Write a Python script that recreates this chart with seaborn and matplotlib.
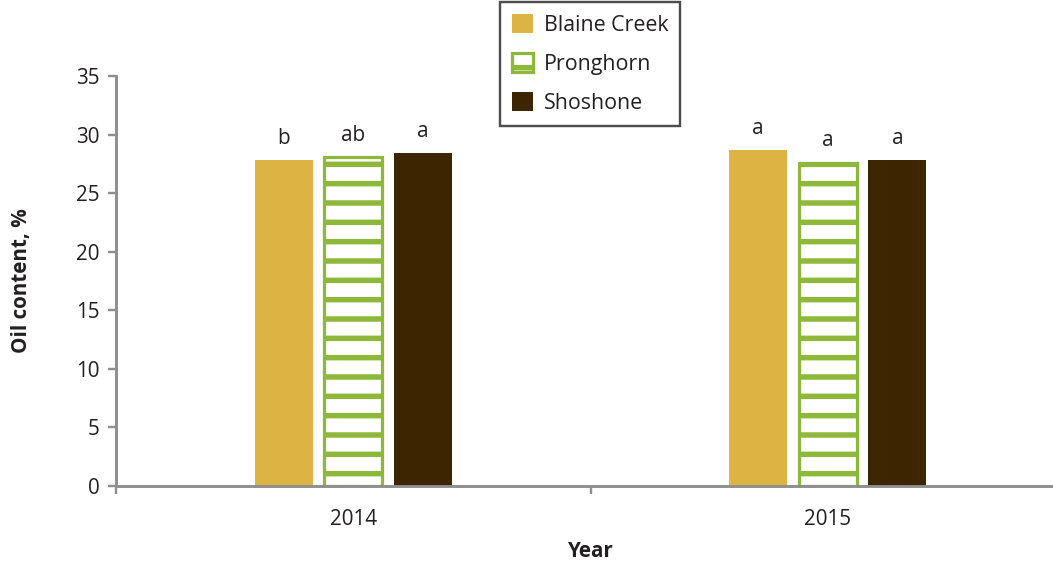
import matplotlib
matplotlib.use("Agg")
import matplotlib.pyplot as plt
from matplotlib.patches import Patch
import seaborn as sns
import pandas as pd

years = ["2014", "2015"]
varieties = ["Blaine Creek", "Pronghorn", "Shoshone"]
blaine_creek = [27.8, 28.7]
pronghorn = [28.1, 27.6]
shoshone = [28.4, 27.8]
letters = {
    "Blaine Creek": ["b", "a"],
    "Pronghorn": ["ab", "a"],
    "Shoshone": ["a", "a"],
}

colors = {"Blaine Creek": "#DDB443", "Pronghorn": "#FFFFFF", "Shoshone": "#3D2500"}
green = "#8DB83A"
axis_grey = "#8E8E8E"
ink = "#231F20"

rows = []
for name, vals in zip(varieties, [blaine_creek, pronghorn, shoshone]):
    for y, v in zip(years, vals):
        rows.append({"Year": y, "Variety": name, "Oil": v})
df = pd.DataFrame(rows)

DPI = 116
sns.set_theme(style="white")
plt.rcParams["font.family"] = ["Open Sans", "DejaVu Sans"]
plt.rcParams["hatch.linewidth"] = 3.4

fig = plt.figure(figsize=(1053 / DPI, 566 / DPI), dpi=DPI)
ax = fig.add_axes([116 / 1053, 1 - 486 / 566, (1065 - 116) / 1053, 410 / 566])

sns.barplot(data=df, x="Year", y="Oil", hue="Variety", order=years,
            hue_order=varieties, palette=colors, width=0.44, gap=0.17,
            saturation=1, legend=False, ax=ax, errorbar=None)

for cont, name in zip(ax.containers, varieties):
    for bar, lab in zip(cont, letters[name]):
        if name == "Pronghorn":
            bar.set_facecolor("white")
            bar.set_edgecolor(green)
            bar.set_hatch("-")
            bar.set_linewidth(2.0)
        else:
            bar.set_edgecolor("none")
        ax.annotate(lab, (bar.get_x() + bar.get_width() / 2, bar.get_height()),
                    xytext=(0, 7), textcoords="offset points",
                    ha="center", va="bottom", fontsize=12.8, color=ink)

ax.set_ylim(0, 35)
ax.set_xlim(-0.5, 1.5)
ax.set_yticks(range(0, 36, 5))
ax.set_xticks([0, 1])
ax.set_xticklabels(years)
ax.set_xticks([-0.5, 0.5], minor=True)
ax.tick_params(axis="x", which="major", length=0, pad=14, labelsize=12.8, colors=ink)
ax.tick_params(axis="x", which="minor", length=5, width=1.5, color=axis_grey, direction="out", bottom=True)
ax.tick_params(axis="y", length=5, width=1.5, color=axis_grey, direction="out", left=True,
               pad=5, labelsize=12.8, labelcolor=ink)

for side in ["top", "right"]:
    ax.spines[side].set_visible(False)
for side in ["left", "bottom"]:
    ax.spines[side].set_color(axis_grey)
    ax.spines[side].set_linewidth(1.8)

ax.set_xlabel("Year", fontsize=12.8, fontweight="bold", color=ink)
ax.set_ylabel("Oil content, %", fontsize=12.8, fontweight="bold", color=ink)
ax.xaxis.set_label_coords((590 - 116) / (1065 - 116), -0.135)
ax.yaxis.set_label_coords(-0.088, 0.5)

handles = [
    Patch(facecolor=colors["Blaine Creek"], edgecolor="none", label="Blaine Creek"),
    Patch(facecolor="white", edgecolor=green, hatch="-", linewidth=2.0, label="Pronghorn"),
    Patch(facecolor=colors["Shoshone"], edgecolor="none", label="Shoshone"),
]
leg = fig.legend(handles=handles, loc="upper left",
                 bbox_to_anchor=(500 / 1053, 1 - 2 / 566), frameon=True,
                 fontsize=13.3, handlelength=1.0, handleheight=1.0,
                 handletextpad=0.5, labelspacing=0.8, borderpad=0.55,
                 borderaxespad=0, fancybox=False)
leg.get_frame().set_edgecolor(ink)
leg.get_frame().set_linewidth(1.5)
for t in leg.get_texts():
    t.set_color(ink)

fig.savefig("out.png", dpi=DPI)
